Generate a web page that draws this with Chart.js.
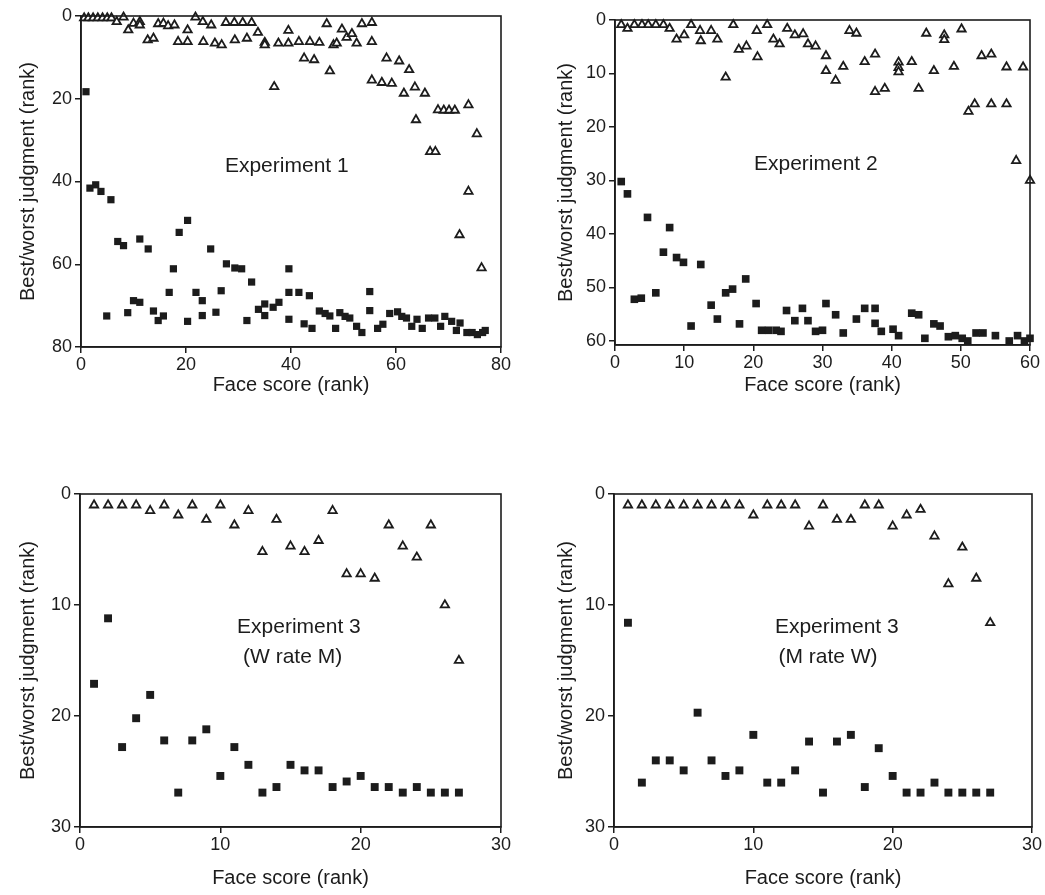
<!DOCTYPE html>
<html><head><meta charset="utf-8">
<script src="https://cdn.jsdelivr.net/npm/chart.js@4.4.1/dist/chart.umd.min.js"></script>
<style>
html,body{margin:0;padding:0;background:#fff;}
#wrap{position:relative;width:1045px;height:895px;overflow:hidden;background:#fff;}
canvas{position:absolute;}
</style></head><body>
<div id="wrap">
<canvas id="c1"></canvas><canvas id="c2"></canvas><canvas id="c3"></canvas><canvas id="c4"></canvas>
</div>
<script>
// ---------- Experiment 1 ----------
const exp1BestX = [0.6,1.4,2.3,3.2,4.1,5.0,5.8,6.8,8.1,9.0,10.0,11.2,11.2,12.7,13.8,14.7,15.7,16.6,17.8,18.5,20.3,20.3,21.8,23.2,23.3,24.8,25.5,26.8,27.6,29.2,29.3,30.8,31.6,32.5,33.7,35.0,35.0,36.8,37.6,39.5,39.5,41.5,42.5,43.6,44.4,45.4,46.8,47.4,48.1,48.7,49.7,50.6,51.6,52.5,53.5,55.4,55.4,55.4,57.3,58.2,59.2,60.6,61.5,62.5,63.6,63.8,65.5,66.5,67.5,68.0,69.1,70.1,71.2,72.1,73.8,73.8,75.4,76.3];
const exp1BestY = [0.5,0.5,0.5,0.5,0.5,0.5,0.5,1.4,0.3,3.4,1.8,1.4,2.2,5.8,5.4,1.9,1.8,2.4,2.2,6.2,3.4,6.2,0.3,1.4,6.2,2.2,6.6,7.0,1.6,1.6,5.8,1.6,5.4,1.6,4.0,6.4,7.0,17.1,6.6,3.5,6.6,6.2,10.2,6.2,10.6,6.4,1.9,13.3,7.0,6.6,3.2,5.2,4.3,6.6,1.9,1.6,6.2,15.5,16.1,10.2,16.3,10.9,18.7,13.0,17.2,25.1,18.7,32.8,32.8,22.7,22.8,22.8,22.8,52.9,21.5,42.4,28.5,60.9];
const exp1WorstX = [0.95,1.7,2.8,3.8,4.9,5.7,7.0,8.1,8.9,10.0,11.2,11.2,12.8,13.8,14.7,15.7,16.8,17.6,18.7,20.3,20.3,21.9,23.1,23.1,24.7,25.7,26.7,27.7,29.3,30.6,31.6,32.5,33.8,35.0,35.0,36.6,37.7,39.6,39.6,39.6,41.5,42.5,43.5,44.0,45.4,46.5,47.4,48.5,49.3,50.3,51.2,52.5,53.5,55.0,55.0,56.5,57.5,58.8,60.3,61.1,62.0,63.0,64.0,65.0,66.2,67.4,68.5,69.3,70.6,71.5,72.2,73.5,74.5,75.5,76.5,77.0];
const exp1WorstY = [18.3,41.6,40.8,42.4,72.5,44.4,54.5,55.5,71.7,68.8,53.9,69.2,56.3,71.3,73.6,72.5,66.8,61.1,52.3,49.4,73.8,66.8,68.8,72.4,56.3,71.6,66.4,59.9,60.9,61.1,73.6,64.3,70.9,69.6,72.4,70.4,69.2,61.1,66.8,73.3,66.8,74.4,67.6,75.5,71.3,71.9,72.5,75.5,71.7,72.6,73.0,75.0,76.5,66.6,71.2,75.5,74.5,71.9,71.5,72.6,73.0,75.0,73.3,75.5,73.0,73.0,75.0,72.6,73.8,76.0,74.2,76.5,76.5,77.0,76.5,76.0];
const exp1XTicks = [0,20,40,60,80];
const exp1YTicks = [0,20,40,60,80];

// ---------- Experiment 2 ----------
const exp2BestX = [0.9,1.8,2.8,3.9,4.8,5.9,7.0,7.9,8.9,10.0,11.0,12.3,12.4,13.9,14.8,16.0,17.1,17.9,19.0,20.5,20.6,22.0,22.9,23.8,24.9,26.0,27.2,27.9,29.0,30.5,30.5,31.9,33.0,33.9,34.9,36.1,37.6,37.6,39.0,41.0,41.0,41.0,42.9,43.9,45.0,46.1,47.6,47.6,49.0,50.1,51.1,52.0,53.0,54.4,54.4,56.6,56.6,58.0,59.0,60.0];
const exp2BestY = [0.9,1.6,0.9,0.9,0.9,0.9,0.9,1.6,3.6,2.8,0.9,2.0,3.9,2.0,3.6,10.7,0.9,5.5,4.9,2.0,6.9,0.9,3.6,4.5,1.6,2.8,2.6,4.5,4.9,6.7,9.5,11.3,8.7,2.0,2.5,7.8,6.4,13.4,12.8,7.9,8.9,9.7,7.8,12.8,2.5,9.5,2.8,3.7,8.7,1.7,17.1,15.7,6.7,6.4,15.7,8.8,15.7,26.3,8.8,30.0];
const exp2WorstX = [0.9,1.8,2.8,3.8,4.7,5.9,7.0,7.9,8.9,9.9,11.0,12.4,13.9,14.8,16.0,17.0,18.0,18.9,20.4,21.2,22.2,23.3,24.0,24.8,26.0,27.1,27.9,29.0,30.0,30.5,31.9,33.0,34.9,36.1,37.6,37.6,38.5,40.2,41.0,42.9,43.9,44.8,46.1,47.0,48.2,49.2,50.2,51.0,52.2,53.2,55.0,57.0,58.2,59.2,60.0];
const exp2WorstY = [30.2,32.5,52.2,52.0,36.9,51.0,43.4,38.8,44.4,45.3,57.2,45.7,53.3,55.9,51.0,50.3,56.8,48.4,53.0,58.0,58.0,58.0,58.2,54.3,56.2,53.9,56.2,58.2,58.0,53.0,55.1,58.5,55.9,53.9,53.9,56.7,58.2,57.8,59.0,54.8,55.1,59.5,56.8,57.2,59.2,59.0,59.5,60.0,58.5,58.5,59.0,60.0,59.0,60.0,59.5];
const exp2XTicks = [0,10,20,30,40,50,60];
const exp2YTicks = [0,10,20,30,40,50,60];

// ---------- Experiment 3 (W rate M) ----------
const exp3aX = [1,2,3,4,5,6,7,8,9,10,11,12,13,14,15,16,17,18,19,20,21,22,23,24,25,26,27];
const exp3aBestY = [1.0,1.0,1.0,1.0,1.5,1.0,1.9,1.0,2.3,1.0,2.8,1.5,5.2,2.3,4.7,5.2,4.2,1.5,7.2,7.2,7.6,2.8,4.7,5.7,2.8,10.0,15.0];
const exp3aWorstY = [17.1,11.2,22.8,20.2,18.1,22.2,26.9,22.2,21.2,25.4,22.8,24.4,26.9,26.4,24.4,24.9,24.9,26.4,25.9,25.4,26.4,26.4,26.9,26.4,26.9,26.9,26.9];

// ---------- Experiment 3 (M rate W) ----------
const exp3bX = [1,2,3,4,5,6,7,8,9,10,11,12,13,14,15,16,17,18,19,20,21,22,23,24,25,26,27];
const exp3bBestY = [1.0,1.0,1.0,1.0,1.0,1.0,1.0,1.0,1.0,1.9,1.0,1.0,1.0,2.9,1.0,2.3,2.3,1.0,1.0,2.9,1.9,1.4,3.8,8.1,4.8,7.6,11.6];
const exp3bWorstY = [11.6,26.0,24.0,24.0,24.9,19.7,24.0,25.4,24.9,21.7,26.0,26.0,24.9,22.3,26.9,22.3,21.7,26.4,22.9,25.4,26.9,26.9,26.0,26.9,26.9,26.9,26.9];
const exp3XTicks = [0,10,20,30];
const exp3YTicks = [0,10,20,30];

const INK = '#1c1c1c';
const FONT = '"Liberation Sans", Arial, Helvetica, sans-serif';

function pts(xs, ys) { return xs.map((x, i) => ({x: x, y: ys[i]})); }

const boxPlugin = {
  id: 'box',
  afterDraw(chart) {
    const {ctx, chartArea: a} = chart;
    ctx.save();
    ctx.strokeStyle = INK;
    ctx.lineWidth = 1.6;
    ctx.strokeRect(a.left, a.top, a.right - a.left, a.bottom - a.top);
    ctx.restore();
  }
};
const annotPlugin = {
  id: 'annot',
  afterDatasetsDraw(chart, args, opts) {
    const {ctx, chartArea: a} = chart;
    ctx.save();
    ctx.fillStyle = INK;
    ctx.font = opts.size + 'px ' + FONT;
    ctx.textAlign = 'center';
    ctx.textBaseline = 'middle';
    (opts.lines || []).forEach(l => {
      ctx.fillText(l.text, a.left + l.fx * (a.right - a.left), a.top + l.fy * (a.bottom - a.top));
    });
    ctx.restore();
  }
};

function makeChart(id, c) {
  const cv = document.getElementById(id);
  cv.width = c.w; cv.height = c.h;
  cv.style.left = c.x + 'px'; cv.style.top = c.y + 'px';
  cv.style.width = c.w + 'px'; cv.style.height = c.h + 'px';
  new Chart(cv, {
    type: 'scatter',
    data: {
      datasets: [
        {label: 'best', data: pts(c.bx, c.by), pointStyle: 'triangle', pointRadius: c.tr,
         backgroundColor: '#ffffff', borderColor: INK, borderWidth: 1.8, clip: false},
        {label: 'worst', data: pts(c.wx, c.wy), pointStyle: 'rect', pointRadius: c.sr,
         backgroundColor: INK, borderColor: INK, borderWidth: 0, clip: false}
      ]
    },
    options: {
      responsive: false, animation: false, devicePixelRatio: 1,
      layout: {padding: {left: 0, top: c.pt, right: c.pr, bottom: 0}},
      plugins: {legend: {display: false}, tooltip: {enabled: false},
                annot: {lines: c.lines, size: 21}},
      scales: {
        x: {
          type: 'linear', min: 0, max: c.xmax,
          afterBuildTicks: s => { s.ticks = c.xticks.map(v => ({value: v})); },
          afterFit: s => { s.height = c.xh; },
          ticks: {color: INK, font: {family: FONT, size: 18}, padding: 1, maxRotation: 0, autoSkip: false},
          grid: {display: true, drawOnChartArea: false, drawTicks: true, tickLength: 6, color: INK, lineWidth: 1.5},
          border: {display: true, color: INK, width: 1.6},
          title: {display: true, text: 'Face score (rank)', color: INK,
                  font: {family: FONT, size: 20}, padding: {top: 0, bottom: c.xtp}}
        },
        y: {
          type: 'linear', reverse: true, min: 0, max: c.ymax,
          afterBuildTicks: s => { s.ticks = c.yticks.map(v => ({value: v})); },
          afterFit: s => { s.width = c.yw; },
          ticks: {color: INK, font: {family: FONT, size: 18}, padding: 3, autoSkip: false},
          grid: {display: true, drawOnChartArea: false, drawTicks: true, tickLength: 6, color: INK, lineWidth: 1.5},
          border: {display: true, color: INK, width: 1.6},
          title: {display: true, text: 'Best/worst judgment (rank)', color: INK,
                  font: {family: FONT, size: 20}, padding: {top: c.ytp, bottom: 0}}
        }
      }
    },
    plugins: [boxPlugin, annotPlugin]
  });
}

makeChart('c1', {x: 0, y: 0, w: 522, h: 430, pt: 16, pr: 21, xh: 83, yw: 81, xtp: 33, ytp: 16,
  xmax: 80, ymax: 80, xticks: exp1XTicks, yticks: exp1YTicks,
  bx: exp1BestX, by: exp1BestY, wx: exp1WorstX, wy: exp1WorstY, tr: 4.8, sr: 5.1,
  lines: [{text: 'Experiment 1', fx: 0.49, fy: 0.453}]});
makeChart('c2', {x: 522, y: 0, w: 523, h: 430, pt: 20, pr: 15, xh: 85, yw: 93, xtp: 33, ytp: 32,
  xmax: 60, ymax: 60.75, xticks: exp2XTicks, yticks: exp2YTicks,
  bx: exp2BestX, by: exp2BestY, wx: exp2WorstX, wy: exp2WorstY, tr: 4.8, sr: 5.4,
  lines: [{text: 'Experiment 2', fx: 0.484, fy: 0.443}]});
makeChart('c3', {x: 0, y: 440, w: 522, h: 455, pt: 54, pr: 21, xh: 68, yw: 80, xtp: 5, ytp: 16,
  xmax: 30, ymax: 30, xticks: exp3XTicks, yticks: exp3YTicks,
  bx: exp3aX, by: exp3aBestY, wx: exp3aX, wy: exp3aWorstY, tr: 4.8, sr: 5.6,
  lines: [{text: 'Experiment 3', fx: 0.52, fy: 0.40}, {text: '(W rate M)', fx: 0.505, fy: 0.49}]});
makeChart('c4', {x: 522, y: 440, w: 523, h: 455, pt: 54, pr: 13, xh: 68, yw: 92, xtp: 5, ytp: 32,
  xmax: 30, ymax: 30, xticks: exp3XTicks, yticks: exp3YTicks,
  bx: exp3bX, by: exp3bBestY, wx: exp3bX, wy: exp3bWorstY, tr: 4.8, sr: 5.6,
  lines: [{text: 'Experiment 3', fx: 0.533, fy: 0.40}, {text: '(M rate W)', fx: 0.512, fy: 0.49}]});
</script>
</body></html>
